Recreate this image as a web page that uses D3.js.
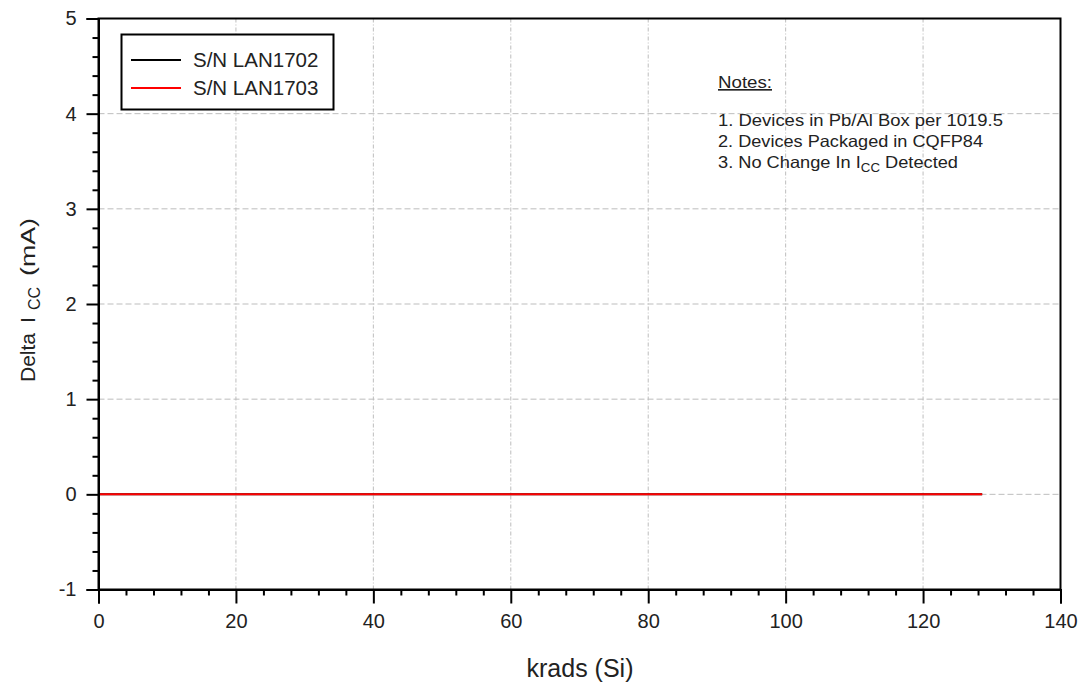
<!DOCTYPE html>
<html>
<head>
<meta charset="utf-8">
<script src="https://cdn.jsdelivr.net/npm/d3@7"></script>
<style>
  html, body { margin: 0; padding: 0; background: #fff; }
  svg { display: block; font-family: "Liberation Sans", Arial, sans-serif; }
</style>
</head>
<body>
<svg id="chart" width="1082" height="685"></svg>
<script>
// Total dose steps (krads(Si)) and change in supply current (mA) per device
const doseSteps = [0, 10, 20, 30, 50, 75, 100, 128.6];
const deltaLAN1702 = [0, 0, 0, 0, 0, 0, 0, 0];
const deltaLAN1703 = [0, 0, 0, 0, 0, 0, 0, 0];

const seriesNames = ["S/N LAN1702", "S/N LAN1703"];
const seriesColors = ["#000000", "#ff0000"];

const xTicks = [0, 20, 40, 60, 80, 100, 120, 140];
const yTicks = [-1, 0, 1, 2, 3, 4, 5];

const notes = [
  "1. Devices in Pb/Al Box per 1019.5",
  "2. Devices Packaged in CQFP84"
];

const svg = d3.select("#chart");
const plotL = 98.5, plotR = 1060.5, plotT = 18.5, plotB = 589.5;

const x = d3.scaleLinear().domain([0, 140]).range([plotL, plotR]);
const y = d3.scaleLinear().domain([-1, 5]).range([plotB, plotT]);

// Grid lines
const grid = svg.append("g");
grid.selectAll("line.gx").data(xTicks.filter(d => d > 0 && d < 140)).join("line")
  .attr("x1", d => x(d)).attr("x2", d => x(d))
  .attr("y1", plotT).attr("y2", plotB)
  .attr("stroke", "#bdbdbd").attr("stroke-width", 1)
  .attr("stroke-dasharray", "4,2,1,2");
grid.selectAll("line.gy").data(yTicks.filter(d => d > -1 && d < 5)).join("line")
  .attr("x1", plotL).attr("x2", plotR)
  .attr("y1", d => y(d)).attr("y2", d => y(d))
  .attr("stroke", "#bdbdbd").attr("stroke-width", 1)
  .attr("stroke-dasharray", "6,3");

// Data lines
const line = d3.line().x((d, i) => x(doseSteps[i])).y(d => y(d));
[deltaLAN1702, deltaLAN1703].forEach((vals, i) => {
  svg.append("path").datum(vals)
    .attr("d", line)
    .attr("fill", "none")
    .attr("stroke", seriesColors[i])
    .attr("stroke-width", 2);
});

// Frame
svg.append("rect")
  .attr("x", plotL).attr("y", plotT)
  .attr("width", plotR - plotL).attr("height", plotB - plotT)
  .attr("fill", "none").attr("stroke", "#000").attr("stroke-width", 2);

// Axes
const xMinor = d3.range(0, 141, 4);
const yMinor = d3.range(-1, 5.001, 0.2).map(v => +v.toFixed(1));

svg.append("g").attr("transform", `translate(0,${plotB})`)
  .call(d3.axisBottom(x).tickValues(xTicks).tickFormat(d => String(d)).tickSize(14).tickPadding(10));
svg.append("g").attr("transform", `translate(0,${plotB})`)
  .call(d3.axisBottom(x).tickValues(xMinor.filter(v => v % 20 !== 0)).tickFormat("").tickSize(6))
  .call(g => g.select(".domain").remove());

svg.append("g").attr("transform", `translate(${plotL},0)`)
  .call(d3.axisLeft(y).tickValues(yTicks).tickFormat(d => String(d)).tickSize(12).tickPadding(10));
svg.append("g").attr("transform", `translate(${plotL},0)`)
  .call(d3.axisLeft(y).tickValues(yMinor.filter(v => Math.abs(v - Math.round(v)) > 0.01)).tickFormat("").tickSize(6))
  .call(g => g.select(".domain").remove());

svg.selectAll(".domain").attr("stroke-width", 2);
svg.selectAll(".tick line").attr("stroke", "#000").attr("stroke-width", 2);
svg.selectAll(".tick text").attr("font-size", 20).attr("fill", "#222")
  .attr("font-family", "'Liberation Sans', Arial, sans-serif");

// Axis titles
svg.append("text")
  .attr("x", 580).attr("y", 677)
  .attr("text-anchor", "middle").attr("font-size", 25).attr("fill", "#222")
  .text("krads (Si)");

const yTitle = svg.append("text")
  .attr("transform", "translate(35,382) rotate(-90)")
  .attr("font-size", 21).attr("fill", "#222");
yTitle.append("tspan").attr("x", 0).text("Delta");
yTitle.append("tspan").attr("x", 59).text("I");
yTitle.append("tspan").attr("x", 72).attr("dy", 5).attr("font-size", 16).text("CC");
yTitle.append("tspan").attr("x", 106).attr("dy", -5)
  .attr("textLength", 58).attr("lengthAdjust", "spacingAndGlyphs").text("(mA)");

// Legend
const legend = svg.append("g");
legend.append("rect")
  .attr("x", 121.5).attr("y", 34.5).attr("width", 212).attr("height", 75)
  .attr("fill", "#fff").attr("stroke", "#000").attr("stroke-width", 2);
seriesNames.forEach((name, i) => {
  const ly = 60 + i * 28;
  legend.append("line")
    .attr("x1", 131).attr("x2", 181).attr("y1", ly).attr("y2", ly)
    .attr("stroke", seriesColors[i]).attr("stroke-width", 2);
  legend.append("text")
    .attr("x", 193).attr("y", ly + 7)
    .attr("font-size", 20.5).attr("fill", "#222")
    .text(name);
});

// Notes block
const notesG = svg.append("g").attr("font-size", 16.5).attr("fill", "#222");
notesG.append("text").attr("x", 718).attr("y", 88)
  .attr("text-decoration", "underline")
  .attr("textLength", 54).attr("lengthAdjust", "spacingAndGlyphs").text("Notes:");
const noteWidths = [285, 265];
notes.forEach((t, i) => {
  notesG.append("text").attr("x", 718).attr("y", 126 + i * 21)
    .attr("textLength", noteWidths[i]).attr("lengthAdjust", "spacingAndGlyphs").text(t);
});
const n3 = notesG.append("text").attr("x", 718).attr("y", 168);
n3.append("tspan").text("3. No Change In I");
n3.append("tspan").attr("font-size", 12).attr("dy", 4).text("CC");
n3.append("tspan").attr("dy", -4).text(" Detected");
n3.attr("textLength", 240).attr("lengthAdjust", "spacingAndGlyphs");
</script>
</body>
</html>
